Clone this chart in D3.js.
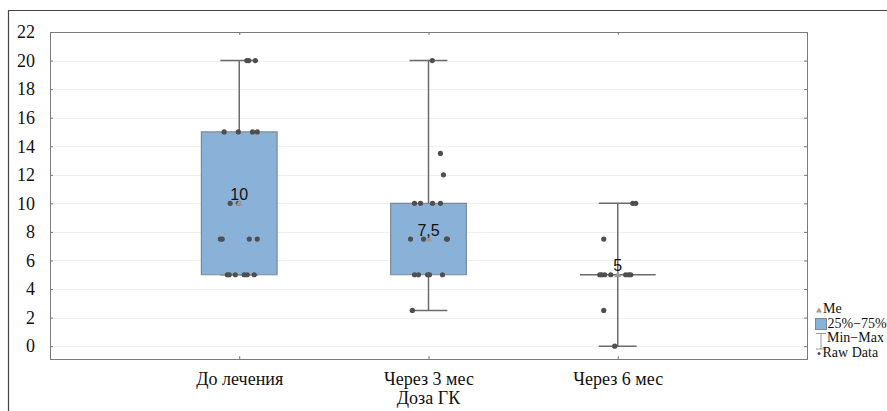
<!DOCTYPE html>
<html>
<head>
<meta charset="utf-8">
<script src="https://cdn.jsdelivr.net/npm/d3@7"></script>
<style>
body { margin: 0; background: #fff; }
</style>
</head>
<body>
<script>
var categories = ["До лечения", "Через 3 мес", "Через 6 мес"];
var medians = [10, 7.5, 5];
var medianLabels = ["10", "7,5", "5"];
var q1 = [5, 5, 5];
var q3 = [15, 10, 5];
var mins = [5, 2.5, 0];
var maxs = [20, 20, 10];
var yTicks = [0, 2, 4, 6, 8, 10, 12, 14, 16, 18, 20, 22];

// raw points, with the horizontal spread (category units)
var raw1 = [20, 20, 20, 15, 15, 15, 15, 10, 10, 7.5, 7.5, 7.5, 7.5, 5, 5, 5, 5, 5, 5];
var jitter1 = [0.04, 0.05, 0.085, -0.08, -0.005, 0.07, 0.095, -0.048, -0.005, -0.1, -0.09, 0.053, 0.095, -0.063, -0.053, -0.021, 0.026, 0.042, 0.079];
var raw2 = [20, 13.5, 12, 10, 10, 10, 10, 7.5, 7.5, 7.5, 7.5, 5, 5, 5, 5, 5, 2.5];
var jitter2 = [0.02, 0.063, 0.079, -0.074, -0.042, 0.021, 0.063, -0.095, -0.026, 0.095, 0.1, -0.074, -0.053, -0.005, 0.005, 0.074, -0.085];
var raw3 = [10, 10, 7.5, 5, 5, 5, 5, 5, 5, 5, 2.5, 0];
var jitter3 = [0.079, 0.095, -0.074, -0.095, -0.085, -0.069, -0.037, 0.042, 0.058, 0.069, -0.074, -0.016];

var raws = [raw1, raw2, raw3];
var jitters = [jitter1, jitter2, jitter3];

var width = 887, height = 411;
var plotLeft = 50, plotRight = 807, plotTop = 32, plotBottom = 359;

var svg = d3.select("body").append("svg")
    .attr("width", width)
    .attr("height", height);

var x = d3.scaleLinear().domain([0, 4]).range([plotLeft, plotRight]);
var y = d3.scaleLinear().domain([-0.9, 22]).range([plotBottom, plotTop]);

// outer frame (cropped on the right and bottom)
svg.append("path")
    .attr("d", "M8.5," + height + "V10.5H" + width)
    .attr("fill", "none")
    .attr("stroke", "#444")
    .attr("stroke-width", 1.2);

// grid
svg.append("g").selectAll("line")
    .data(yTicks)
    .enter().append("line")
    .attr("x1", plotLeft).attr("x2", plotRight)
    .attr("y1", function(d) { return Math.round(y(d)) + 0.5; })
    .attr("y2", function(d) { return Math.round(y(d)) + 0.5; })
    .attr("stroke", "#efefef");

// axes
function styleAxis(g) {
    g.select(".domain").remove();
    g.selectAll(".tick line").attr("stroke", "#777");
    g.selectAll("text")
        .attr("font-family", "'Liberation Serif', 'Times New Roman', serif")
        .attr("font-size", 18)
        .attr("fill", "#111");
}

svg.append("g")
    .attr("transform", "translate(" + plotLeft + ",0)")
    .call(d3.axisLeft(y).tickValues(yTicks).tickSize(-3).tickPadding(15))
    .call(styleAxis);

svg.append("g")
    .attr("transform", "translate(" + plotRight + ",0)")
    .call(d3.axisRight(y).tickValues(yTicks).tickSize(-3).tickFormat(""))
    .call(styleAxis);

svg.append("g")
    .attr("transform", "translate(0," + plotBottom + ")")
    .call(d3.axisBottom(x).tickValues([1, 2, 3]).tickSize(-3).tickPadding(13)
        .tickFormat(function(d) { return categories[d - 1]; }))
    .call(styleAxis);

svg.append("g")
    .attr("transform", "translate(0," + plotTop + ")")
    .call(d3.axisTop(x).tickValues([1, 2, 3]).tickSize(-3).tickFormat(""))
    .call(styleAxis);

svg.append("rect")
    .attr("x", plotLeft + 0.5).attr("y", plotTop + 0.5)
    .attr("width", plotRight - plotLeft).attr("height", plotBottom - plotTop)
    .attr("fill", "none")
    .attr("stroke", "#7a7a7a");

svg.append("text")
    .attr("x", (plotLeft + plotRight) / 2)
    .attr("y", 404)
    .attr("text-anchor", "middle")
    .attr("font-family", "'Liberation Serif', 'Times New Roman', serif")
    .attr("font-size", 18)
    .attr("fill", "#111")
    .text("Доза ГК");

// boxes
var groups = svg.append("g").selectAll("g")
    .data(categories)
    .enter().append("g");

groups.append("line")
    .attr("x1", function(d, i) { return x(i + 1); })
    .attr("x2", function(d, i) { return x(i + 1); })
    .attr("y1", function(d, i) { return y(mins[i]); })
    .attr("y2", function(d, i) { return y(maxs[i]); })
    .attr("stroke", "#6b6b6b").attr("stroke-width", 1.5);

groups.selectAll(".cap")
    .data(function(d, i) { return [[i, mins[i]], [i, maxs[i]]]; })
    .enter().append("line")
    .attr("class", "cap")
    .attr("x1", function(d) { return x(d[0] + 1 - 0.1); })
    .attr("x2", function(d) { return x(d[0] + 1 + 0.1); })
    .attr("y1", function(d) { return y(d[1]); })
    .attr("y2", function(d) { return y(d[1]); })
    .attr("stroke", "#6b6b6b").attr("stroke-width", 1.5);

// box as a path, so a box with q1 == q3 still shows as a line
groups.append("path")
    .attr("d", function(d, i) {
        var x0 = x(i + 1 - 0.2), x1 = x(i + 1 + 0.2);
        return "M" + x0 + "," + y(q3[i]) + "H" + x1 + "V" + y(q1[i]) + "H" + x0 + "Z";
    })
    .attr("fill", "#8ab2d9")
    .attr("stroke", function(d, i) { return q1[i] === q3[i] ? "#6b6b6b" : "#7d8894"; })
    .attr("stroke-width", function(d, i) { return q1[i] === q3[i] ? 1.5 : 1.2; });

// raw data
groups.selectAll(".pt")
    .data(function(d, i) {
        return raws[i].map(function(v, j) { return [i + 1 + jitters[i][j], v]; });
    })
    .enter().append("circle")
    .attr("class", "pt")
    .attr("cx", function(d) { return x(d[0]); })
    .attr("cy", function(d) { return y(d[1]); })
    .attr("r", 2.6)
    .attr("fill", "#4f4f4f");

// medians
groups.append("path")
    .attr("transform", function(d, i) { return "translate(" + x(i + 1) + "," + y(medians[i]) + ")"; })
    .attr("d", "M0,-3.5L3.5,2.5L-3.5,2.5Z")
    .attr("fill", "#9a9a9a");

groups.append("text")
    .attr("x", function(d, i) { return x(i + 1); })
    .attr("y", function(d, i) { return y(medians[i]) - 3.5; })
    .attr("text-anchor", "middle")
    .attr("font-family", "'Liberation Sans', Arial, sans-serif")
    .attr("font-size", 16)
    .attr("fill", "#111")
    .text(function(d, i) { return medianLabels[i]; });

// legend
var legend = svg.append("g")
    .attr("font-family", "'Liberation Serif', 'Times New Roman', serif")
    .attr("font-size", 14)
    .attr("fill", "#111");

legend.append("path")
    .attr("d", "M819,307.5L822,312.5L816,312.5Z")
    .attr("fill", "#9a9a9a");
legend.append("text").attr("x", 823).attr("y", 312.7).text("Me");

legend.append("rect")
    .attr("x", 815.5).attr("y", 318.5).attr("width", 11).attr("height", 11)
    .attr("fill", "#8ab2d9").attr("stroke", "#7d8894");
legend.append("text").attr("x", 827.5).attr("y", 327.5).text("25%\u221275%");

legend.append("path")
    .attr("d", "M816,333.5H826M821,333.5V349M816,349H826")
    .attr("fill", "none").attr("stroke", "#999");
legend.append("text").attr("x", 827).attr("y", 342.3).text("Min\u2212Max");

legend.append("circle")
    .attr("cx", 819).attr("cy", 353.5).attr("r", 1.5).attr("fill", "#4f4f4f");
legend.append("text").attr("x", 822.5).attr("y", 357).text("Raw Data");
</script>
</body>
</html>
